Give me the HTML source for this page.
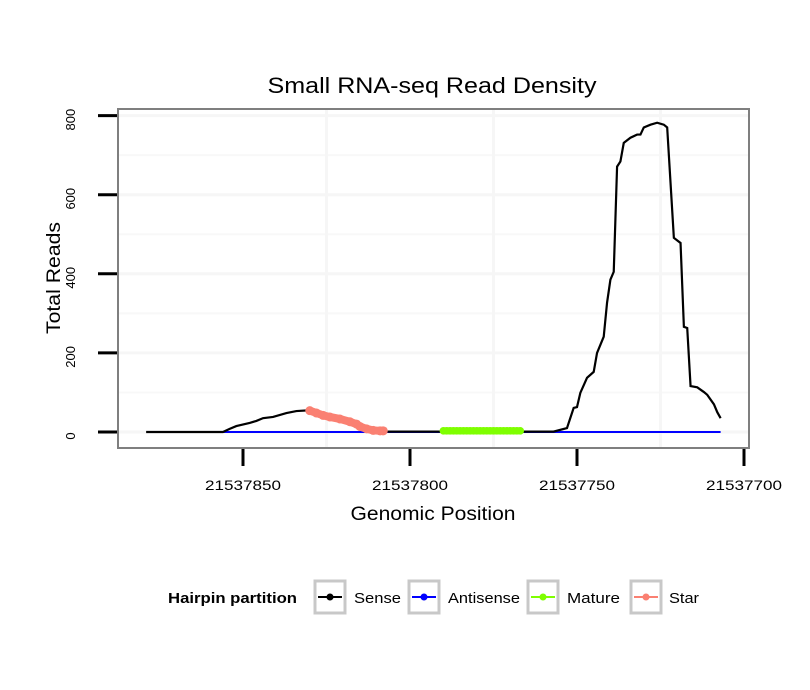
<!DOCTYPE html>
<html><head><meta charset="utf-8"><style>
body{margin:0;background:#fff;}
svg{display:block;font-family:"Liberation Sans",sans-serif;}
</style></head><body>
<svg id="chart" width="810" height="690" viewBox="0 0 810 690" xmlns="http://www.w3.org/2000/svg">
<text x="432" y="93" font-size="22" text-anchor="middle" textLength="329" lengthAdjust="spacingAndGlyphs">Small RNA-seq Read Density</text>
<rect x="118" y="109" width="631" height="339" fill="#fff"/>
<g id="grid"></g>
<g id="series"></g>
<rect x="118" y="109" width="631" height="339" fill="none" stroke="#7f7f7f" stroke-width="2"/>
<g id="axes"></g>
<text x="433" y="520" font-size="19" text-anchor="middle" textLength="165" lengthAdjust="spacingAndGlyphs">Genomic Position</text>
<text transform="translate(60,278) rotate(-90)" font-size="19" text-anchor="middle" textLength="112" lengthAdjust="spacingAndGlyphs">Total Reads</text>
<g>
<text x="168" y="603" font-size="15" font-weight="bold" textLength="129" lengthAdjust="spacingAndGlyphs">Hairpin partition</text>
<g><rect x="315" y="581" width="30" height="32" fill="#fff" stroke="#c8c8c8" stroke-width="3"/><line x1="318" y1="597" x2="342" y2="597" stroke="#000" stroke-width="2"/><circle cx="330" cy="597" r="3.5" fill="#000"/><text x="354" y="603" font-size="15" textLength="47" lengthAdjust="spacingAndGlyphs">Sense</text></g>
<g><rect x="409" y="581" width="30" height="32" fill="#fff" stroke="#c8c8c8" stroke-width="3"/><line x1="412" y1="597" x2="436" y2="597" stroke="#0000ff" stroke-width="2"/><circle cx="424" cy="597" r="3.5" fill="#0000ff"/><text x="448" y="603" font-size="15" textLength="72" lengthAdjust="spacingAndGlyphs">Antisense</text></g>
<g><rect x="528" y="581" width="30" height="32" fill="#fff" stroke="#c8c8c8" stroke-width="3"/><line x1="531" y1="597" x2="555" y2="597" stroke="#7fff00" stroke-width="2"/><circle cx="543" cy="597" r="3.5" fill="#7fff00"/><text x="567" y="603" font-size="15" textLength="53" lengthAdjust="spacingAndGlyphs">Mature</text></g>
<g><rect x="631" y="581" width="30" height="32" fill="#fff" stroke="#c8c8c8" stroke-width="3"/><line x1="634" y1="597" x2="658" y2="597" stroke="#fa8072" stroke-width="2"/><circle cx="646" cy="597" r="3.5" fill="#fa8072"/><text x="669" y="603" font-size="15" textLength="30" lengthAdjust="spacingAndGlyphs">Star</text></g>
</g>
</svg>
<script>
const xTicks = [21537850, 21537800, 21537750, 21537700];
const xMinor = [21537825, 21537775, 21537725];
const yTicks = [0, 200, 400, 600, 800];
const yMinor = [100, 300, 500, 700];
const sensePos = [21537879,21537856,21537854,21537852,21537848,21537846,21537844,21537841,21537837,21537834,21537830,21537828,21537826,21537824,21537821,21537818,21537816,21537815,21537813,21537811,21537809,21537808,21537807,21537757,21537753,21537751,21537750,21537749,21537747,21537745,21537744,21537742,21537741,21537740,21537739,21537738,21537737,21537736,21537734,21537732,21537731,21537730,21537728,21537726,21537724,21537723,21537721,21537719,21537718,21537717,21537716,21537714,21537712,21537711,21537709,21537708,21537707];
const senseVal = [0,0,8,15,23,28,35,38,48,53,55,48,42,38,33,26,20,14,8,4,3,3,1,1,10,61,63,99,137,152,200,241,327,385,405,671,684,731,744,752,752,770,777,782,777,770,491,478,266,263,116,113,101,94,70,50,35];
const antiStart = 21537856, antiEnd = 21537707;
const antiVal = 0;
const matureStart = 21537790, matureEnd = 21537767;
const matureVal = 3;
const starPos = [21537830,21537828,21537826,21537824,21537821,21537818,21537816,21537815,21537813,21537811,21537809,21537808];
const starVal = [54,48,42,38,33,26,20,14,8,4,3,3];

const NS="http://www.w3.org/2000/svg";
function X(p){return 243 + (21537850 - p) * 3.34;}
function Y(v){return 432 - v * 0.3955;}
function mk(tag, attrs, parent){const e=document.createElementNS(NS,tag);for(const k in attrs)e.setAttribute(k,attrs[k]);parent.appendChild(e);return e;}
const grid=document.getElementById('grid'), ser=document.getElementById('series'), axes=document.getElementById('axes');
yMinor.forEach(v=>{const l=mk('line',{x1:118,x2:749,y1:Y(v),y2:Y(v),stroke:'#f8f8f8','stroke-width':2},grid);

});
xMinor.forEach(p=>{const l=mk('line',{x1:X(p),x2:X(p),y1:109,y2:448,stroke:'#f6f6f6','stroke-width':3},grid);

});
yTicks.forEach(v=>{const l=mk('line',{x1:118,x2:749,y1:Y(v),y2:Y(v),stroke:'#f6f6f6','stroke-width':3},grid);


const t=mk('line',{x1:98,x2:117,y1:Y(v),y2:Y(v),stroke:'#000','stroke-width':3},axes);


const tx=mk('text',{transform:`translate(75,${Y(v)+4}) rotate(-90)`,'font-size':13,'text-anchor':'middle'},axes);
tx.textContent=v;

});
xTicks.forEach(p=>{const t=mk('line',{x1:X(p),x2:X(p),y1:449,y2:466,stroke:'#000','stroke-width':3},axes);


const tx=mk('text',{x:X(p),y:490,'font-size':14,'text-anchor':'middle',textLength:76,lengthAdjust:'spacingAndGlyphs'},axes);
tx.textContent=p;

});
const a=mk('line',{x1:X(antiStart),x2:X(antiEnd),y1:Y(antiVal),y2:Y(antiVal),stroke:'#0000ff','stroke-width':2},ser);


const s=mk('polyline',{points:sensePos.map((p,i)=>X(p)+','+Y(senseVal[i])).join(' '),fill:'none',stroke:'#000','stroke-width':2.2},ser);


const m=mk('line',{x1:X(matureStart),x2:X(matureEnd),y1:Y(matureVal),y2:Y(matureVal),stroke:'#7fff00','stroke-width':7,'stroke-linecap':'round'},ser);


for(let p=matureStart;p>=matureEnd;p--){const c=mk('circle',{cx:X(p),cy:Y(matureVal),r:3.8,fill:'#7fff00'},ser);

}
const st=mk('polyline',{points:starPos.map((p,i)=>X(p)+','+Y(starVal[i])).join(' '),fill:'none',stroke:'#fa8072','stroke-width':8,'stroke-linecap':'round','stroke-linejoin':'round'},ser);


starPos.forEach((p,i)=>{const c=mk('circle',{cx:X(p),cy:Y(starVal[i]),r:4.5,fill:'#fa8072'},ser);

});
</script>
</body></html>
